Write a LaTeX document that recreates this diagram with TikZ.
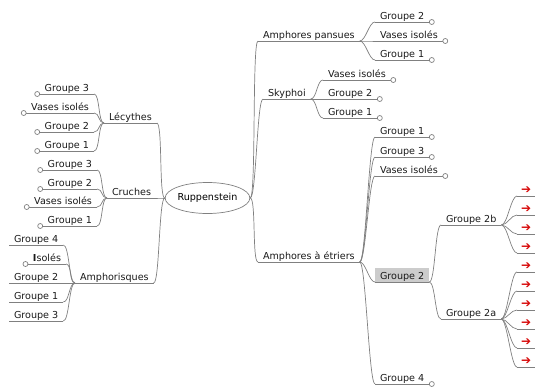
\documentclass[tikz,border=0pt]{standalone}
\usepackage{fontspec}
\setmainfont{DejaVu Sans}
\usetikzlibrary{shapes.geometric}
\definecolor{lnk}{RGB}{128,128,128}
\definecolor{hl}{RGB}{204,204,204}
\definecolor{arr}{RGB}{215,10,10}
\begin{document}
\begin{tikzpicture}[x=1pt, y=-1pt,
    itm/.style={inner xsep=5pt, inner ysep=1pt, outer sep=0pt, text height=7.5pt, text depth=2pt,
        font=\fontsize{9.6}{11}\selectfont, text=black!90},
    arw/.style={itm, text=arr, inner xsep=4pt, font=\fontsize{12}{12}\selectfont},
    lk/.style={draw=lnk, line width=0.7pt},
    tol/.style={out=180, in=0, distance=6pt},
    tor/.style={out=0, in=180, distance=6pt}]
    \useasboundingbox (0,0) rectangle (535,388);
    %中心
    \node[ellipse, draw=lnk, line width=0.7pt, minimum width=75pt, minimum height=31pt,
        inner sep=0pt, font=\fontsize{9.6}{11}\selectfont] (rup) at (207.5,198) {Ruppenstein};
    %左侧分支
    \node[itm, anchor=south west] (lec) at (104,123) {Lécythes};
    \node[itm, anchor=south east] (lecA) at (94,94) {Groupe 3};
    \node[itm, anchor=south east] (lecB) at (94,113) {Vases isolés};
    \node[itm, anchor=south east] (lecC) at (94,132) {Groupe 2};
    \node[itm, anchor=south east] (lecD) at (94,151) {Groupe 1};
    \node[itm, anchor=south west] (cru) at (107,198) {Cruches};
    \node[itm, anchor=south east] (cruA) at (97,170) {Groupe 3};
    \node[itm, anchor=south east] (cruB) at (97,189) {Groupe 2};
    \node[itm, anchor=south east] (cruC) at (97,207) {Vases isolés};
    \node[itm, anchor=south east] (cruD) at (97,226) {Groupe 1};
    \node[itm, anchor=south west] (amk) at (75,283) {Amphorisques};
    \node[itm, anchor=south west] (amkA) at (9,245) {Groupe 4};
    \node[itm, anchor=south east] (amkB) at (66,264) {{\bfseries I}solés};
    \node[itm, anchor=south west] (amkC) at (9,283) {Groupe 2};
    \node[itm, anchor=south west] (amkD) at (9,302) {Groupe 1};
    \node[itm, anchor=south west] (amkE) at (9,321) {Groupe 3};
    %右侧分支
    \node[itm, anchor=south west] (pan) at (258,41) {Amphores pansues};
    \node[itm, anchor=south west] (panA) at (375,22) {Groupe 2};
    \node[itm, anchor=south west] (panB) at (375,41) {Vases isolés};
    \node[itm, anchor=south west] (panC) at (375,60) {Groupe 1};
    \node[itm, anchor=south west] (sky) at (263,99) {Skyphoi};
    \node[itm, anchor=south west] (skyA) at (323,80) {Vases isolés};
    \node[itm, anchor=south west] (skyB) at (323,99) {Groupe 2};
    \node[itm, anchor=south west] (skyC) at (323,118) {Groupe 1};
    \node[itm, anchor=south west] (etr) at (258,262) {Amphores à étriers};
    \node[itm, anchor=south west] (etrA) at (375,137) {Groupe 1};
    \node[itm, anchor=south west] (etrB) at (375,157) {Groupe 3};
    \node[itm, anchor=south west] (etrC) at (375,176) {Vases isolés};
    \node[itm, anchor=south west, fill=hl, text height=10pt] (etrD) at (375,282) {Groupe 2};
    \node[itm, anchor=south west] (etrE) at (375,384) {Groupe 4};
    \node[itm, anchor=south west] (gb) at (441,225) {Groupe 2b};
    \node[itm, anchor=south west] (ga) at (441,319) {Groupe 2a};
    \foreach \i/\y in {1/196,2/215,3/234,4/253}
        \node[arw, anchor=south west] (gb\i) at (517,\y) {➔};
    \foreach \i/\y in {1/272,2/291,3/310,4/329,5/348,6/367}
        \node[arw, anchor=south west] (ga\i) at (517,\y) {➔};
    %下划线
    \foreach \n in {lec,lecA,lecB,lecC,lecD,cru,cruA,cruB,cruC,cruD,amk,amkA,amkB,amkC,amkD,amkE,
        pan,panA,panB,panC,sky,skyA,skyB,skyC,etr,etrA,etrB,etrC,etrD,etrE,gb,ga,
        gb1,gb2,gb3,gb4,ga1,ga2,ga3,ga4,ga5,ga6}
        \draw[lk] (\n.south west) -- (\n.south east);
    %连线
    \draw[lk] (rup.west) to[tol] (lec.south east);
    \draw[lk] (rup.west) to[tol] (cru.south east);
    \draw[lk] (rup.west) to[tol] (amk.south east);
    \draw[lk] (rup.east) to[tor] (pan.south west);
    \draw[lk] (rup.east) to[tor] (sky.south west);
    \draw[lk] (rup.east) to[tor] (etr.south west);
    \foreach \c in {lecA,lecB,lecC,lecD} \draw[lk] (lec.south west) to[tol] (\c.south east);
    \foreach \c in {cruA,cruB,cruC,cruD} \draw[lk] (cru.south west) to[tol] (\c.south east);
    \foreach \c in {amkA,amkB,amkC,amkD,amkE} \draw[lk] (amk.south west) to[tol] (\c.south east);
    \foreach \c in {panA,panB,panC} \draw[lk] (pan.south east) to[tor] (\c.south west);
    \foreach \c in {skyA,skyB,skyC} \draw[lk] (sky.south east) to[tor] (\c.south west);
    \foreach \c in {etrA,etrB,etrC,etrD,etrE} \draw[lk] (etr.south east) to[tor] (\c.south west);
    \foreach \c in {gb,ga} \draw[lk] (etrD.south east) to[tor] (\c.south west);
    \foreach \c in {gb1,gb2,gb3,gb4} \draw[lk] (gb.south east) to[tor] (\c.south west);
    \foreach \c in {ga1,ga2,ga3,ga4,ga5,ga6} \draw[lk] (ga.south east) to[tor] (\c.south west);
    %小圆圈
    \foreach \n in {lecA,lecB,lecC,lecD,cruA,cruB,cruC,cruD,amkB}
        \draw[lk, fill=white] ([xshift=-2.5pt]\n.south west) circle (2.5pt);
    \foreach \n in {panA,panB,panC,skyA,skyB,skyC,etrA,etrB,etrC,etrE}
        \draw[lk, fill=white] ([xshift=2.5pt]\n.south east) circle (2.5pt);
\end{tikzpicture}
\end{document}
